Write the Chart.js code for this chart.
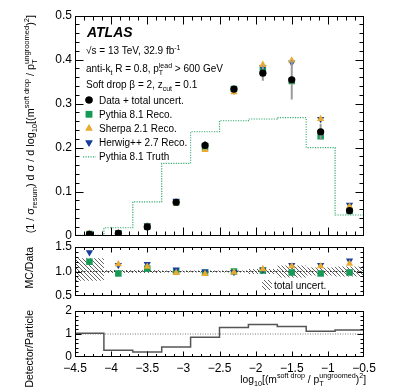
<!DOCTYPE html>
<html lang="en">
<head>
<meta charset="UTF-8">
<title>Soft drop mass</title>
<script src="https://cdn.jsdelivr.net/npm/chart.js@4.4.1/dist/chart.umd.min.js"></script>
<style>
  body { margin: 0; background: #fff; }
  #wrap { position: relative; width: 407px; height: 390px; }
  canvas { position: absolute; left: 0; }
</style>
</head>
<body>
<div id="wrap">
  <canvas id="main" width="407" height="250" style="top:0px"></canvas>
  <canvas id="ratio" width="407" height="74" style="top:236px"></canvas>
  <canvas id="detpart" width="407" height="90" style="top:300px"></canvas>
</div>
<script>
// bins in log10[(m/pT)^2]
const binEdges   = [-4.5, -4.1, -3.7, -3.3, -2.9, -2.5, -2.1, -1.7, -1.3, -0.9, -0.5];
const binCenters = [-4.3, -3.9, -3.5, -3.1, -2.7, -2.3, -1.9, -1.5, -1.1, -0.7];

// top panel
const dataVals   = [0.003, 0.0055, 0.020, 0.076, 0.205, 0.333, 0.369, 0.354, 0.236, 0.057];
const dataErr    = [0.001, 0.0005, 0.001, 0.002, 0.010, 0.007, 0.017, 0.045, 0.018, 0.006];
const pythiaVals = [0.0036, 0.0053, 0.021, 0.076, 0.201, 0.333, 0.376, 0.351, 0.226, 0.056];
const sherpaVals = [0.005, 0.0063, 0.022, 0.074, 0.195, 0.326, 0.388, 0.398, 0.265, 0.066];
const herwigVals = [0.0042, 0.0062, 0.023, 0.079, 0.205, 0.329, 0.382, 0.393, 0.265, 0.070];
const truthVals  = [0.001, 0.018, 0.077, 0.164, 0.236, 0.261, 0.265, 0.268, 0.200, 0.047];

// MC / data
const pythiaRatio = [1.20, 0.96, 1.06, 1.00, 0.98, 1.00, 1.02, 0.98, 0.96, 0.98];
const sherpaRatio = [1.62, 1.15, 1.10, 0.97, 0.95, 0.98, 1.05, 1.11, 1.11, 1.16];
const herwigRatio = [1.39, 1.13, 1.15, 1.04, 1.00, 0.99, 1.04, 1.13, 1.13, 1.22];
const uncLow  = [0.81, 0.97, 0.97, 0.98, 0.98, 0.98, 0.95, 0.88, 0.92, 0.90];
const uncHigh = [1.27, 1.03, 1.03, 1.02, 1.02, 1.02, 1.05, 1.12, 1.08, 1.10];

// detector / particle
const detOverPart = [1.03, 0.29, 0.22, 0.43, 0.86, 1.28, 1.41, 1.33, 1.12, 1.17];

const FAM = '"Liberation Sans", Arial, Helvetica, sans-serif';
const GREEN = '#169a56', ORANGE = '#eaaa30', BLUE = '#173f9e', TRUTH = '#39ab72';

const pts = vals => binCenters.map((c, i) => ({x: c, y: vals[i]}));
const steps = vals => binEdges.map((e, i) => ({x: e, y: vals[Math.min(i, vals.length - 1)]}));

// text with sub / superscripts, y is baseline
function richWidth(ctx, parts, size) {
  let w = 0;
  for (const p of parts) {
    if (typeof p === 'string') { ctx.font = size + 'px ' + FAM; w += ctx.measureText(p).width; }
    else {
      ctx.font = (size * 0.7) + 'px ' + FAM;
      w += Math.max(p.sup ? ctx.measureText(p.sup).width : 0, p.sub ? ctx.measureText(p.sub).width : 0);
    }
  }
  return w;
}
function drawRich(ctx, parts, x, y, size, align) {
  let cx = align === 'right' ? x - richWidth(ctx, parts, size) : x;
  ctx.textAlign = 'left';
  ctx.textBaseline = 'alphabetic';
  for (const p of parts) {
    if (typeof p === 'string') {
      ctx.font = size + 'px ' + FAM;
      ctx.fillText(p, cx, y);
      cx += ctx.measureText(p).width;
    } else {
      ctx.font = (size * 0.7) + 'px ' + FAM;
      let w = 0;
      if (p.sup) { ctx.fillText(p.sup, cx, y - size * 0.45); w = ctx.measureText(p.sup).width; }
      if (p.sub) { ctx.fillText(p.sub, cx, y + size * 0.3); w = Math.max(w, ctx.measureText(p.sub).width); }
      cx += w;
    }
  }
}
function drawVertical(ctx, parts, xBase, yTop, size) {
  ctx.save();
  ctx.translate(xBase, yTop);
  ctx.rotate(-Math.PI / 2);
  drawRich(ctx, parts, 0, 0, size, 'right');
  ctx.restore();
}

// ROOT style frame with inward ticks on all sides
function frameTicks(o) {
  return {
    id: 'frameTicks',
    afterDatasetsDraw(chart) {
      const {ctx, chartArea: a} = chart;
      const x = chart.scales.x, y = chart.scales.y;
      ctx.save();
      ctx.strokeStyle = '#000';
      ctx.lineWidth = 1;
      const L = Math.round(a.left) + 0.5, R = Math.round(a.right) - 0.5;
      const T = Math.round(a.top) + 0.5, B = Math.round(a.bottom) - 0.5;
      ctx.strokeRect(L, T, R - L, B - T);
      ctx.beginPath();
      const nx = Math.round((x.max - x.min) / o.xMinor);
      for (let i = 1; i < nx; i++) {
        const px = Math.round(x.getPixelForValue(x.min + i * o.xMinor)) + 0.5;
        const len = i % o.xPer === 0 ? o.xLen : o.xLen / 2;
        ctx.moveTo(px, B); ctx.lineTo(px, B - len);
        ctx.moveTo(px, T); ctx.lineTo(px, T + len);
      }
      const ny = Math.round((y.max - y.min) / o.yMinor);
      for (let i = 1; i < ny; i++) {
        const py = Math.round(y.getPixelForValue(y.min + i * o.yMinor)) + 0.5;
        const len = i % o.yPer === 0 ? o.yLen : o.yLen / 2;
        ctx.moveTo(L, py); ctx.lineTo(L + len, py);
        ctx.moveTo(R, py); ctx.lineTo(R - len, py);
      }
      ctx.stroke();
      ctx.restore();
    }
  };
}

// vertical error bars drawn just before the dataset markers
const errorBars = {
  id: 'errorBars',
  beforeDatasetDraw(chart, args) {
    const ds = chart.data.datasets[args.index];
    if (!ds.errors) return;
    const {ctx} = chart;
    const x = chart.scales.x, y = chart.scales.y;
    ctx.save();
    ctx.strokeStyle = '#9a9a9a';
    ctx.lineWidth = 2;
    ctx.beginPath();
    ds.data.forEach((p, i) => {
      const px = x.getPixelForValue(p.x);
      ctx.moveTo(px, y.getPixelForValue(p.y - ds.errors[i]));
      ctx.lineTo(px, y.getPixelForValue(p.y + ds.errors[i]));
    });
    ctx.stroke();
    ctx.restore();
  }
};

function baseScales(yMin, yMax, yStep, showX) {
  const x = {
    type: 'linear', min: -4.5, max: -0.5, display: showX,
    grid: {display: false, drawTicks: false},
    border: {display: false},
    ticks: {
      stepSize: 0.5, autoSkip: false, maxRotation: 0, padding: 4, color: '#000',
      font: {size: 12, family: FAM},
      callback: v => (v < 0 ? '\u2212' : '') + Math.abs(v)
    }
  };
  if (showX) x.afterFit = s => { s.height = 33; };
  return {
    x,
    y: {
      type: 'linear', min: yMin, max: yMax,
      grid: {display: false, drawTicks: false},
      border: {display: false},
      ticks: {stepSize: yStep, padding: 3, color: '#000', font: {size: 12, family: FAM}},
      afterFit: s => { s.width = 75; }
    }
  };
}

const common = {
  responsive: false,
  animation: false,
  events: [],
  plugins: {legend: {display: false}, tooltip: {enabled: false}}
};

function marker(label, data, color, style, radius, rotation) {
  return {
    label, data, showLine: false,
    pointStyle: style, pointRadius: radius, pointRotation: rotation || 0,
    pointBackgroundColor: color, pointBorderWidth: 0, backgroundColor: color, borderColor: color
  };
}

// ---------- top panel ----------
const legendRows = [
  {text: 'Data + total uncert.', style: 'circle', color: '#000', r: 3.6, rot: 0},
  {text: 'Pythia 8.1 Reco.', style: 'rect', color: GREEN, r: 4.6, rot: 0},
  {text: 'Sherpa 2.1 Reco.', style: 'triangle', color: ORANGE, r: 4.2, rot: 0},
  {text: 'Herwig++ 2.7 Reco.', style: 'triangle', color: BLUE, r: 4.2, rot: 180},
  {text: 'Pythia 8.1 Truth', style: 'line'}
];

const mainText = {
  id: 'mainText',
  afterDraw(chart) {
    const ctx = chart.ctx;
    ctx.save();
    ctx.fillStyle = '#000';
    ctx.font = 'italic bold 14px ' + FAM;
    ctx.textBaseline = 'alphabetic';
    ctx.fillText('ATLAS', 87, 37);
    drawRich(ctx, ['\u221As = 13 TeV, 32.9 fb', {sup: '-1'}], 86, 54, 10);
    drawRich(ctx, ['anti-k', {sub: 't'}, ' R = 0.8, p', {sub: 'T', sup: 'lead'}, ' > 600 GeV'], 86, 72, 10);
    drawRich(ctx, ['Soft drop \u03B2 = 2, z', {sub: 'cut'}, ' = 0.1'], 86, 88, 10);
    legendRows.forEach((row, i) => {
      const cy = 100 + i * 14.2;
      if (row.style === 'line') {
        ctx.strokeStyle = TRUTH;
        ctx.lineWidth = 1.2;
        ctx.setLineDash([1.2, 1.3]);
        ctx.beginPath(); ctx.moveTo(83, cy); ctx.lineTo(96, cy); ctx.stroke();
        ctx.setLineDash([]);
      } else {
        ctx.fillStyle = row.color;
        Chart.helpers.drawPoint(ctx, {pointStyle: row.style, radius: row.r, rotation: row.rot, borderWidth: 0}, 89, cy);
        ctx.fill();
      }
      ctx.fillStyle = '#000';
      drawRich(ctx, [row.text], 99, cy + 3.6, 10);
    });
    drawVertical(ctx, ['(1 / \u03C3', {sub: 'resum'}, ') d \u03C3 / d log', {sub: '10'}, '[(m', {sup: 'soft drop'},
      ' / p', {sub: 'T', sup: 'ungroomed'}, ')', {sup: '2'}, ']'], 34, 15, 10.8);
    ctx.restore();
  }
};

new Chart(document.getElementById('main'), {
  type: 'scatter',
  data: {
    datasets: [
      Object.assign(marker('Data + total uncert.', pts(dataVals), '#000', 'circle', 3.6), {errors: dataErr}),
      marker('Sherpa 2.1 Reco.', pts(sherpaVals), ORANGE, 'triangle', 4.2),
      marker('Herwig++ 2.7 Reco.', pts(herwigVals), BLUE, 'triangle', 4.2, 180),
      marker('Pythia 8.1 Reco.', pts(pythiaVals), GREEN, 'rect', 4.6),
      {
        label: 'Pythia 8.1 Truth', data: steps(truthVals), showLine: true, stepped: true,
        borderColor: TRUTH, borderWidth: 1.2, borderDash: [1.2, 1.3], pointRadius: 0, fill: false
      }
    ]
  },
  options: Object.assign({}, common, {
    layout: {padding: {left: 0, right: 43, top: 15.5, bottom: 14.3}},
    scales: baseScales(0, 0.5, 0.1, false)
  }),
  plugins: [errorBars, frameTicks({xMinor: 0.125, xPer: 4, xLen: 8, yMinor: 0.02, yPer: 5, yLen: 8}), mainText]
});

// ---------- MC / data ----------
const ratioCanvas = document.getElementById('ratio');
function hatch(ctx) {
  const c = document.createElement('canvas');
  c.width = 4; c.height = 4;
  const g = c.getContext('2d');
  g.strokeStyle = '#3a3a3a';
  g.lineWidth = 0.8;
  g.beginPath();
  g.moveTo(0, 0); g.lineTo(4, 4);
  g.moveTo(-1, 3); g.lineTo(1, 5);
  g.moveTo(3, -1); g.lineTo(5, 1);
  g.stroke();
  return ctx.createPattern(c, 'repeat');
}
const hatchFill = hatch(ratioCanvas.getContext('2d'));

const ratioText = {
  id: 'ratioText',
  afterDraw(chart) {
    const ctx = chart.ctx;
    ctx.save();
    ctx.fillStyle = hatchFill;
    ctx.fillRect(262, 44, 10, 10);
    ctx.fillStyle = '#000';
    drawRich(ctx, ['total uncert.'], 274, 53, 10);
    drawVertical(ctx, ['MC/Data'], 33, 11, 10.5);
    ctx.restore();
  }
};

new Chart(ratioCanvas, {
  type: 'scatter',
  data: {
    datasets: [
      Object.assign(marker('Sherpa 2.1 Reco.', pts(sherpaRatio), ORANGE, 'triangle', 4.2), {clip: 0}),
      Object.assign(marker('Herwig++ 2.7 Reco.', pts(herwigRatio), BLUE, 'triangle', 4.2, 180), {clip: 0}),
      Object.assign(marker('Pythia 8.1 Reco.', pts(pythiaRatio), GREEN, 'rect', 4.6), {clip: 0}),
      {
        label: 'unity', data: [{x: -4.5, y: 1}, {x: -0.5, y: 1}], showLine: true,
        borderColor: '#333', borderWidth: 1, borderDash: [1.5, 1.5], pointRadius: 0, fill: false
      },
      {
        label: 'total uncert.', data: steps(uncHigh), showLine: true, stepped: true,
        borderWidth: 0, pointRadius: 0, backgroundColor: hatchFill, fill: '+1'
      },
      {
        label: 'unc low', data: steps(uncLow), showLine: true, stepped: true,
        borderWidth: 0, pointRadius: 0, fill: false
      }
    ]
  },
  options: Object.assign({}, common, {
    layout: {padding: {left: 0, right: 43, top: 11, bottom: 14}},
    scales: baseScales(0.5, 1.5, 0.5, false)
  }),
  plugins: [frameTicks({xMinor: 0.125, xPer: 4, xLen: 5, yMinor: 0.1, yPer: 5, yLen: 6}), ratioText]
});

// ---------- detector / particle ----------
const detText = {
  id: 'detText',
  afterDraw(chart) {
    const ctx = chart.ctx;
    ctx.save();
    ctx.fillStyle = '#000';
    drawVertical(ctx, ['Detector/Particle'], 33, 10, 10.5);
    drawRich(ctx, ['log', {sub: '10'}, '[(m', {sup: 'soft drop'}, ' / p', {sub: 'T', sup: 'ungroomed'}, ')', {sup: '2'}, ']'],
      366, 83, 10.3, 'right');
    ctx.restore();
  }
};

new Chart(document.getElementById('detpart'), {
  type: 'scatter',
  data: {
    datasets: [
      {
        label: 'Detector/Particle', data: steps(detOverPart), showLine: true, stepped: true,
        borderColor: '#555', borderWidth: 1.5, pointRadius: 0, fill: false
      },
      {
        label: 'unity', data: [{x: -4.5, y: 1}, {x: -0.5, y: 1}], showLine: true,
        borderColor: '#777', borderWidth: 1, borderDash: [1, 1.5], pointRadius: 0, fill: false
      }
    ]
  },
  options: Object.assign({}, common, {
    layout: {padding: {left: 0, right: 43, top: 11, bottom: 0}},
    scales: baseScales(0, 2, 1, true)
  }),
  plugins: [frameTicks({xMinor: 0.125, xPer: 4, xLen: 5, yMinor: 0.2, yPer: 5, yLen: 6}), detText]
});
</script>
</body>
</html>
